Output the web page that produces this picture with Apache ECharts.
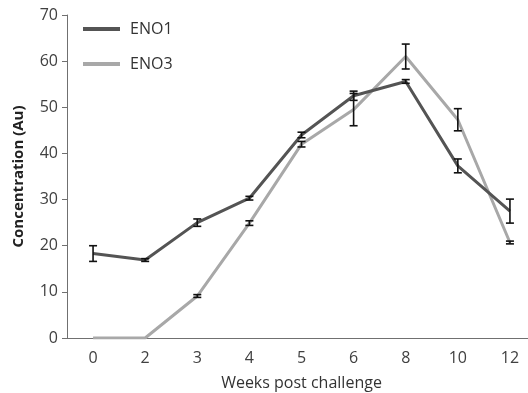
<!DOCTYPE html>
<html>
<head>
<meta charset="utf-8">
<script src="https://cdn.jsdelivr.net/npm/echarts@6/dist/echarts.min.js"></script>
<style>
  html, body { margin: 0; padding: 0; background: #fff; }
  #chart { width: 528px; height: 393px; }
</style>
</head>
<body>
<div id="chart"></div>
<script>
// weeks post challenge
const weeks = ['0', '2', '3', '4', '5', '6', '8', '10', '12'];

// mean concentrations
const eno1 = [18.3, 16.9, 25.0, 30.3, 44.0, 52.5, 55.6, 37.3, 27.5];
const eno3 = [0, 0, 9.1, 24.9, 42.0, 49.5, 61.0, 47.3, 20.7];

// half-width of error bars
const eno1Err = [1.7, 0.3, 0.8, 0.4, 0.6, 1.0, 0.4, 1.5, 2.6];
const eno3Err = [0, 0, 0.3, 0.5, 0.6, 3.5, 2.7, 2.4, 0.3];

const yTicks = { min: 0, max: 70, interval: 10 };

const fontFamily = 'Open Sans';

function errorData(values, errs) {
  return values.map((v, i) => [i, v - errs[i], v + errs[i]]);
}

function renderErrorBar(params, api) {
  const x = api.value(0);
  const lo = api.coord([x, api.value(1)]);
  const hi = api.coord([x, api.value(2)]);
  if (Math.abs(hi[1] - lo[1]) < 0.5) return;
  const half = 4;
  const style = { stroke: '#111', lineWidth: 1.6 };
  return {
    type: 'group',
    children: [
      { type: 'line', shape: { x1: hi[0], y1: hi[1], x2: lo[0], y2: lo[1] }, style },
      { type: 'line', shape: { x1: hi[0] - half, y1: hi[1], x2: hi[0] + half, y2: hi[1] }, style },
      { type: 'line', shape: { x1: lo[0] - half, y1: lo[1], x2: lo[0] + half, y2: lo[1] }, style }
    ]
  };
}

const chart = echarts.init(document.getElementById('chart'));

const option = {
  animation: false,
  textStyle: { fontFamily },
  // plot runs past the right edge, as in the reference
  grid: { left: 67, top: 15, width: 469, bottom: 55, outerBoundsMode: 'none' },
  legend: {
    orient: 'vertical',
    left: 78,
    top: 16,
    itemWidth: 37,
    itemHeight: 4,
    itemGap: 19,
    icon: 'rect',
    textStyle: { fontSize: 16, color: '#333', fontFamily, padding: [0, 0, 0, 5] },
    data: ['ENO1', 'ENO3']
  },
  xAxis: {
    type: 'category',
    data: weeks,
    name: 'Weeks post challenge',
    nameLocation: 'middle',
    nameGap: 37,
    nameTextStyle: { fontSize: 16, color: '#333' },
    axisLine: { lineStyle: { color: '#707070', width: 1 } },
    axisTick: { show: false },
    axisLabel: { fontSize: 16, color: '#404040', margin: 12 }
  },
  yAxis: {
    type: 'value',
    min: yTicks.min,
    max: yTicks.max,
    interval: yTicks.interval,
    name: 'Concentration (Au)',
    nameLocation: 'middle',
    nameGap: 41,
    nameTextStyle: { fontSize: 15, fontWeight: 'bold', color: '#222' },
    axisLine: { show: true, lineStyle: { color: '#707070', width: 1 } },
    axisTick: { show: true, length: 5, lineStyle: { color: '#707070' } },
    splitLine: { show: false },
    axisLabel: { fontSize: 16, color: '#404040', margin: 9 }
  },
  series: [
    {
      name: 'ENO1',
      type: 'line',
      data: eno1,
      symbol: 'none',
      color: '#545454',
      lineStyle: { width: 3, color: '#545454' },
      z: 3
    },
    {
      name: 'ENO3',
      type: 'line',
      data: eno3,
      symbol: 'none',
      color: '#a8a8a8',
      lineStyle: { width: 3, color: '#a8a8a8' },
      z: 2
    },
    {
      type: 'custom',
      name: 'ENO1 error',
      data: errorData(eno1, eno1Err),
      renderItem: renderErrorBar,
      encode: { x: 0, y: [1, 2] },
      z: 5
    },
    {
      type: 'custom',
      name: 'ENO3 error',
      data: errorData(eno3, eno3Err),
      renderItem: renderErrorBar,
      encode: { x: 0, y: [1, 2] },
      z: 5
    }
  ]
};

chart.setOption(option);
</script>
</body>
</html>
